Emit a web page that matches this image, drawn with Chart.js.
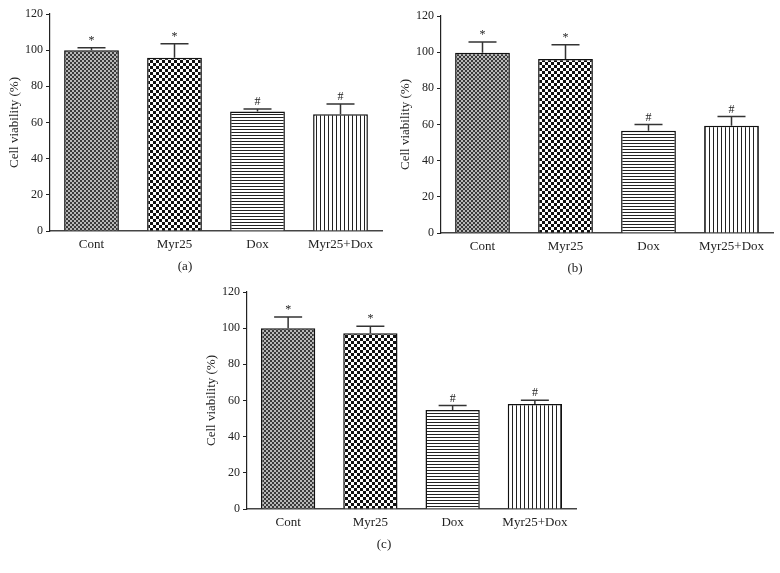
<!DOCTYPE html>
<html>
<head>
<meta charset="utf-8">
<script src="https://cdn.jsdelivr.net/npm/chart.js@4.4.1/dist/chart.umd.min.js"></script>
<style>
  body { margin: 0; background: #fff; width: 780px; height: 573px; overflow: hidden; position: relative; }
  .panel { position: absolute; }
</style>
</head>
<body>
<div class="panel" id="pa" style="left:-12px; top:0px; width:402px; height:280px;"><canvas id="chartA"></canvas></div>
<div class="panel" id="pb" style="left:377px; top:2px; width:404px; height:280px;"><canvas id="chartB"></canvas></div>
<div class="panel" id="pc" style="left:192px; top:278px; width:392px; height:280px;"><canvas id="chartC"></canvas></div>
<script>
// data
const groups = ["Cont", "Myr25", "Dox", "Myr25+Dox"];
const yTicks = [0, 20, 40, 60, 80, 100, 120];
const marks = ["*", "*", "#", "#"];

const viabilityA = [100, 95.8, 66.1, 64.6];
const errorA = [1.3, 7.7, 1.4, 5.6];

const viabilityB = [99.7, 96.2, 56.5, 59.3];
const errorB = [5.9, 7.9, 3.5, 5.1];

const viabilityC = [99.9, 97.2, 54.8, 58.0];
const errorC = [6.3, 3.9, 2.5, 2.2];

const fontFamily = "'Liberation Serif', 'DejaVu Serif', serif";
const textColor = "#222";

// fill patterns for the four bars
function makePattern(type) {
  const c = document.createElement("canvas");
  const g = c.getContext("2d");
  if (type === "fineCheck") {
    c.width = 4; c.height = 4;
    g.fillStyle = "#b8b8b8"; g.fillRect(0, 0, 4, 4);
    g.fillStyle = "#3a3a3a";
    g.fillRect(0, 0, 2, 2); g.fillRect(2, 2, 2, 2);
  } else if (type === "coarseCheck") {
    c.width = 6; c.height = 6;
    g.fillStyle = "#fff"; g.fillRect(0, 0, 6, 6);
    g.fillStyle = "#111";
    g.fillRect(0, 0, 3, 3); g.fillRect(3, 3, 3, 3);
  } else if (type === "hLines") {
    c.width = 3; c.height = 3;
    g.fillStyle = "#fff"; g.fillRect(0, 0, 3, 3);
    g.fillStyle = "#222"; g.fillRect(0, 0, 3, 1);
  } else {
    c.width = 4; c.height = 4;
    g.fillStyle = "#fff"; g.fillRect(0, 0, 4, 4);
    g.fillStyle = "#222"; g.fillRect(0, 0, 1, 4);
  }
  return g.createPattern(c, "repeat");
}
const fills = [makePattern("fineCheck"), makePattern("coarseCheck"), makePattern("hLines"), makePattern("vLines")];

// upper error whisker + significance mark above each bar
const errorBarPlugin = {
  id: "errBars",
  afterDatasetsDraw(chart, args, opts) {
    const ctx = chart.ctx;
    const yScale = chart.scales.y;
    const bars = chart.getDatasetMeta(0).data;
    const values = chart.data.datasets[0].data;
    ctx.save();
    ctx.strokeStyle = "#333";
    ctx.lineWidth = 1.5;
    bars.forEach((bar, i) => {
      const top = yScale.getPixelForValue(values[i] + opts.err[i]);
      ctx.beginPath();
      ctx.moveTo(bar.x, bar.y);
      ctx.lineTo(bar.x, top);
      ctx.moveTo(bar.x - 14, top);
      ctx.lineTo(bar.x + 14, top);
      ctx.stroke();
      ctx.fillStyle = textColor;
      ctx.font = "12px " + fontFamily;
      ctx.textAlign = "center";
      ctx.textBaseline = "bottom";
      ctx.fillText(opts.marks[i], bar.x, top - 1);
    });
    ctx.restore();
  }
};

function makeChart(id, values, errors, label, yWidth) {
  return new Chart(document.getElementById(id), {
    type: "bar",
    data: {
      labels: groups,
      datasets: [{
        data: values,
        backgroundColor: fills,
        borderColor: "#111",
        borderWidth: 1.5,
        borderSkipped: "bottom",
        categoryPercentage: 1,
        barPercentage: 0.66
      }]
    },
    options: {
      responsive: true,
      maintainAspectRatio: false,
      animation: false,
      layout: { padding: { top: 14, right: 8, left: 0, bottom: 0 } },
      plugins: {
        legend: { display: false },
        tooltip: { enabled: false },
        title: {
          display: true,
          text: label,
          position: "bottom",
          color: textColor,
          font: { family: fontFamily, size: 13, weight: "normal" },
          padding: { top: 8, bottom: 5.4 }
        },
        errBars: { err: errors, marks: marks }
      },
      scales: {
        x: {
          grid: { drawOnChartArea: false, drawTicks: false },
          border: { display: true, color: "#444", width: 1.5 },
          ticks: { color: textColor, padding: 6, font: { family: fontFamily, size: 13 } },
          afterFit: (s) => { s.height = 20; }
        },
        y: {
          min: 0,
          max: 120,
          afterBuildTicks: (s) => { s.ticks = yTicks.map(v => ({ value: v })); },
          grid: { drawOnChartArea: false, drawTicks: true, tickLength: 4, color: "#222" },
          border: { display: true, color: "#222", width: 1.2 },
          ticks: { color: textColor, padding: 3, font: { family: fontFamily, size: 12 } },
          title: {
            display: true,
            text: "Cell viability (%)",
            color: textColor,
            font: { family: fontFamily, size: 13 },
            padding: { top: yWidth - 35 - 7.8, bottom: 0 }
          },
          afterFit: (s) => { s.width = yWidth; }
        }
      }
    },
    plugins: [errorBarPlugin]
  });
}

makeChart("chartA", viabilityA, errorA, "(a)", 62);
makeChart("chartB", viabilityB, errorB, "(b)", 64);
makeChart("chartC", viabilityC, errorC, "(c)", 55);
</script>
</body>
</html>
